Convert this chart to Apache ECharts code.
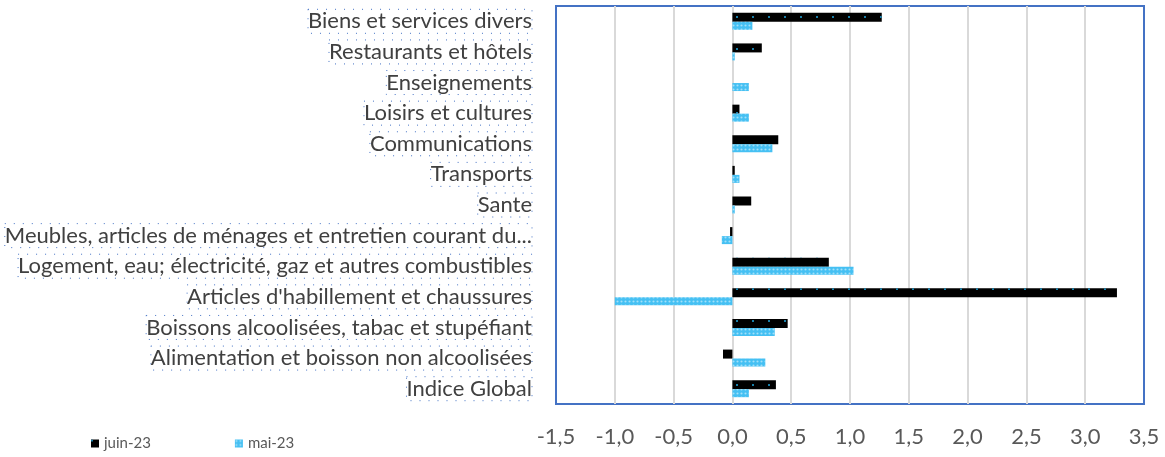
<!DOCTYPE html>
<html>
<head>
<meta charset="utf-8">
<script src="https://cdn.jsdelivr.net/npm/echarts@6/dist/echarts.min.js"></script>
<style>
  html, body { margin: 0; padding: 0; background: #fff; }
  #chart { width: 1165px; height: 457px; }
</style>
</head>
<body>
<div id="chart"></div>
<script>
// categories listed bottom to top
var categories = [
    'Indice Global',
    'Alimentation et boisson non alcoolisées',
    'Boissons alcoolisées, tabac et stupéfiant',
    "Articles d'habillement et chaussures",
    'Logement, eau; électricité, gaz et autres combustibles',
    'Meubles, articles de ménages et entretien courant du...',
    'Sante',
    'Transports',
    'Communications',
    'Loisirs et cultures',
    'Enseignements',
    'Restaurants et hôtels',
    'Biens et services divers'
];
var juin23 = [0.37, -0.08, 0.47, 3.27, 0.82, -0.02, 0.16, 0.02, 0.39, 0.06, 0, 0.25, 1.27];
var mai23 = [0.14, 0.28, 0.36, -1.00, 1.03, -0.09, 0.02, 0.06, 0.34, 0.14, 0.14, 0.02, 0.17];
var xTicks = { min: -1.5, max: 3.5, step: 0.5 };

var chart = echarts.init(document.getElementById('chart'));

chart.setOption({
    animation: false,
    textStyle: { fontFamily: 'Lato' },
    legend: {
        data: ['juin-23', 'mai-23'],
        left: 86,
        bottom: 1,
        itemWidth: 8,
        itemHeight: 8,
        itemGap: 84,
        icon: 'rect',
        textStyle: { fontSize: 15, color: '#595959', fontFamily: 'Lato' }
    },
    grid: {
        show: true,
        left: 556,
        right: 21,
        top: 6,
        bottom: 53,
        borderColor: '#4472c4',
        borderWidth: 2,
        containLabel: false,
        outerBoundsMode: 'none'
    },
    xAxis: {
        type: 'value',
        min: xTicks.min,
        max: xTicks.max,
        interval: xTicks.step,
        axisLine: { show: false },
        axisTick: { show: false },
        splitLine: {
            showMinLine: false,
            showMaxLine: false,
            lineStyle: { color: '#d9d9d9', width: 2 }
        },
        axisLabel: {
            margin: 22,
            fontSize: 22,
            color: '#595959',
            formatter: function (v) { return v.toFixed(1).replace('.', ','); }
        }
    },
    yAxis: {
        type: 'category',
        data: categories,
        axisLine: { show: false, onZero: false },
        axisTick: { show: false },
        axisLabel: {
            margin: 24,
            fontSize: 22,
            color: '#404040',
            lineHeight: 24,
            borderColor: '#4472c4',
            borderWidth: 1,
            borderType: [1, 8]
        }
    },
    series: [{
        name: 'juin-23',
        type: 'bar',
        barWidth: 9,
        barGap: '0%',
        data: juin23,
        itemStyle: {
            color: '#000000',
            decal: {
                symbol: 'rect',
                symbolSize: 1,
                dashArrayX: [2, 14],
                dashArrayY: [2, 14],
                color: '#1a7fa8'
            }
        }
    }, {
        name: 'mai-23',
        type: 'bar',
        barWidth: 8,
        barGap: '0%',
        data: mai23,
        itemStyle: {
            color: '#45c0f3',
            decal: {
                symbol: 'circle',
                symbolSize: 0.7,
                dashArrayX: [3, 1],
                dashArrayY: [3, 1],
                color: 'rgba(255,255,255,0.5)'
            }
        }
    }]
});
</script>
</body>
</html>
